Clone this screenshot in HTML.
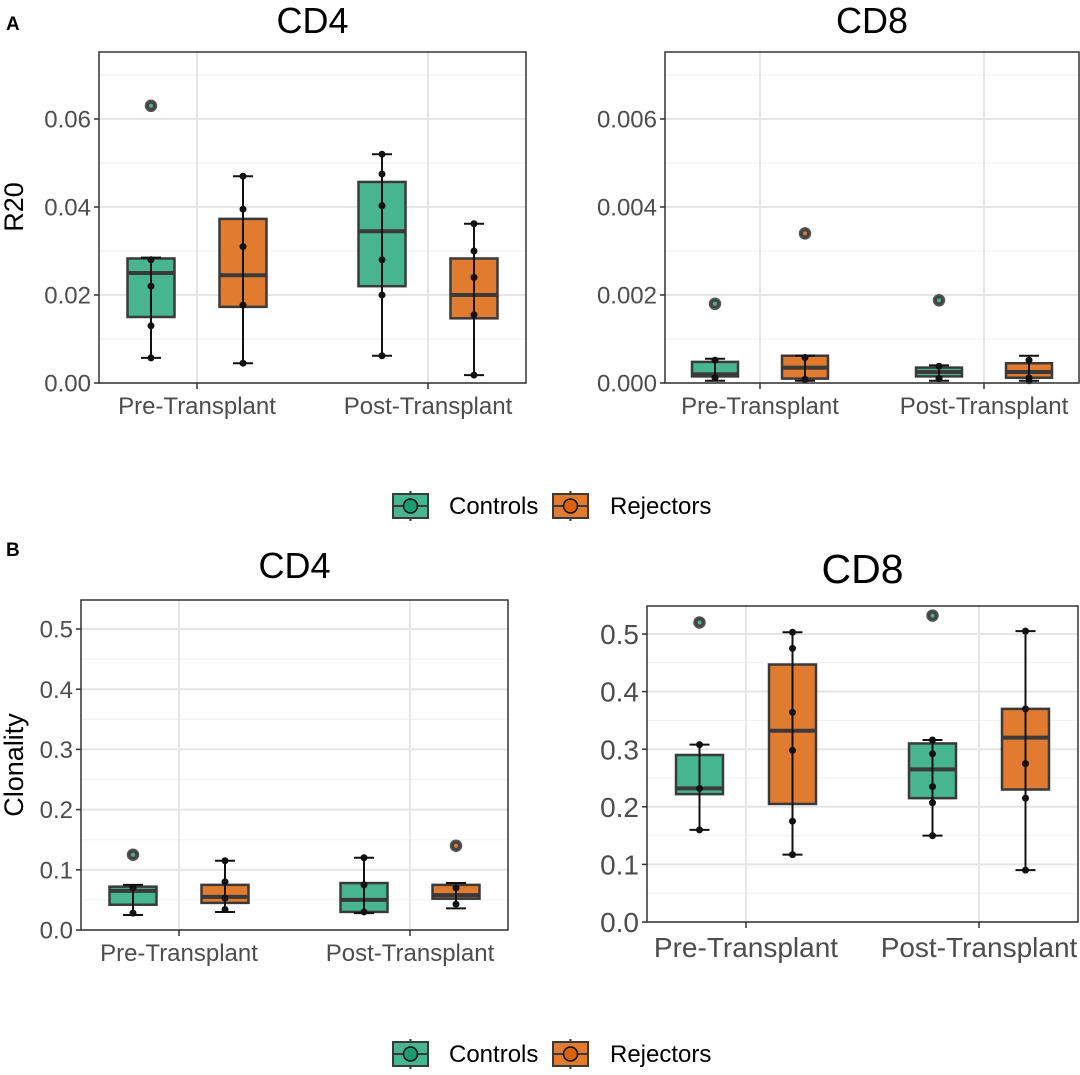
<!DOCTYPE html>
<html><head><meta charset="utf-8">
<style>
body{margin:0;background:#fff;}
svg{display:block;font-family:"Liberation Sans",Arial,sans-serif;}
</style></head>
<body>
<svg id="fig" width="1080" height="1075" viewBox="0 0 1080 1075" xmlns="http://www.w3.org/2000/svg"></svg>
<script>
// group order: Pre-Controls, Pre-Rejectors, Post-Controls, Post-Rejectors
const categories = ["Pre-Transplant", "Post-Transplant"];
const groups = ["Controls", "Rejectors"];

// Panel A CD4 (R20)
const aCD4_lo  = [0.0057, 0.0045, 0.0062, 0.0018];
const aCD4_q1  = [0.0150, 0.0173, 0.0220, 0.0147];
const aCD4_med = [0.0250, 0.0245, 0.0345, 0.0200];
const aCD4_q3  = [0.0283, 0.0373, 0.0457, 0.0283];
const aCD4_hi  = [0.0285, 0.0470, 0.0520, 0.0362];
const aCD4_pts = [[0.028,0.022,0.013,0.0057],[0.047,0.0395,0.031,0.0177,0.0045],[0.052,0.0475,0.0403,0.028,0.020,0.0062],[0.0362,0.030,0.024,0.0155,0.0018]];
const aCD4_out = [[0.063],[],[],[]];
const aCD4_ticks = [0, 0.02, 0.04, 0.06];
const aCD4_tickLabels = ["0.00", "0.02", "0.04", "0.06"];

// Panel A CD8 (R20)
const aCD8_lo  = [0.00005, 0.00005, 0.00005, 0.00005];
const aCD8_q1  = [0.00015, 0.00010, 0.00015, 0.00012];
const aCD8_med = [0.00020, 0.00035, 0.00025, 0.00025];
const aCD8_q3  = [0.00048, 0.00062, 0.00035, 0.00045];
const aCD8_hi  = [0.00055, 0.00062, 0.00040, 0.00062];
const aCD8_pts = [[0.00052,0.00012,0.00012],[0.00058,0.00008,0.00008],[0.00038,0.0001,0.0001],[0.00052,0.00012,0.00005]];
const aCD8_out = [[0.0018],[0.0034],[0.00188],[]];
const aCD8_ticks = [0, 0.002, 0.004, 0.006];
const aCD8_tickLabels = ["0.000", "0.002", "0.004", "0.006"];

// Panel B CD4 (Clonality)
const bCD4_lo  = [0.025, 0.030, 0.028, 0.036];
const bCD4_q1  = [0.042, 0.045, 0.030, 0.052];
const bCD4_med = [0.065, 0.055, 0.050, 0.058];
const bCD4_q3  = [0.072, 0.075, 0.078, 0.075];
const bCD4_hi  = [0.075, 0.115, 0.120, 0.078];
const bCD4_pts = [[0.070,0.028],[0.115,0.080,0.053,0.034],[0.120,0.075,0.030],[0.070,0.043]];
const bCD4_out = [[0.125],[],[],[0.140]];
const bCD4_ticks = [0, 0.1, 0.2, 0.3, 0.4, 0.5];
const bCD4_tickLabels = ["0.0", "0.1", "0.2", "0.3", "0.4", "0.5"];

// Panel B CD8 (Clonality)
const bCD8_lo  = [0.160, 0.117, 0.150, 0.090];
const bCD8_q1  = [0.222, 0.205, 0.215, 0.230];
const bCD8_med = [0.232, 0.332, 0.265, 0.320];
const bCD8_q3  = [0.290, 0.447, 0.310, 0.370];
const bCD8_hi  = [0.308, 0.503, 0.316, 0.505];
const bCD8_pts = [[0.308,0.232,0.160],[0.503,0.475,0.364,0.298,0.175,0.117],[0.316,0.292,0.235,0.207,0.150],[0.505,0.370,0.275,0.215,0.090]];
const bCD8_out = [[0.520],[],[0.532],[]];
const bCD8_ticks = [0, 0.1, 0.2, 0.3, 0.4, 0.5];
const bCD8_tickLabels = ["0.0", "0.1", "0.2", "0.3", "0.4", "0.5"];

const NS = "http://www.w3.org/2000/svg";
const svg = document.getElementById("fig");
const FILL = ["#46b590", "#e07b2f"];
function mk(tag, attrs, parent, text){
  const e = document.createElementNS(NS, tag);
  for (const k in attrs) e.setAttribute(k, attrs[k]);
  if (text !== undefined) e.textContent = text;
  (parent || svg).appendChild(e);
  return e;
}

function panel(cfg){
  const g = mk("g", {});
  
  
  const ys = v => cfg.y1 - (v - 0) / cfg.ymax * (cfg.y1 - cfg.y0);
  const xs = i => cfg.centers[i];
  for (let i = 0; i < cfg.ticks.length; i++){
    const t = cfg.ticks[i];
    const mid = t + (cfg.ticks[1]-cfg.ticks[0])/2;
    if (ys(mid) > cfg.y0) mk("line",{x1:cfg.x0,x2:cfg.x1,y1:ys(mid),y2:ys(mid),stroke:"#f0f0f0","stroke-width":1},g);
  }
  for (let i = 0; i < cfg.ticks.length; i++){
    const y = ys(cfg.ticks[i]);
    mk("line",{x1:cfg.x0,x2:cfg.x1,y1:y,y2:y,stroke:"#e6e6e6","stroke-width":2},g);
    mk("line",{x1:cfg.x0-5,x2:cfg.x0,y1:y,y2:y,stroke:"#333","stroke-width":1.5},g);
    const tl = mk("text",{x:cfg.x0-8,y:y+cfg.tf*0.36,"text-anchor":"end","font-size":cfg.tf,fill:"#4d4d4d"},g,cfg.tickLabels[i]);
    
    
  }
  for (let c = 0; c < categories.length; c++){
    const x = xs(c);
    mk("line",{x1:x,x2:x,y1:cfg.y0,y2:cfg.y1,stroke:"#e6e6e6","stroke-width":2},g);
    mk("line",{x1:x,x2:x,y1:cfg.y1,y2:cfg.y1+6,stroke:"#333","stroke-width":1.5},g);
    const xl = mk("text",{x:x,y:cfg.y1+cfg.tf+7,"text-anchor":"middle","font-size":cfg.tf,fill:"#4d4d4d"},g,categories[c]);
    
    
  }
  const d = cfg.data;
  for (let i = 0; i < 4; i++){
    const cx = xs(Math.floor(i/2)) + (i%2 === 0 ? -cfg.dodge : cfg.dodge);
    const w = cfg.bw, col = FILL[i%2];
    const bg = mk("g",{},g);
    
    
    mk("line",{x1:cx,x2:cx,y1:ys(d.lo[i]),y2:ys(d.q1[i]),stroke:"#333","stroke-width":2},bg);
    mk("line",{x1:cx,x2:cx,y1:ys(d.q3[i]),y2:ys(d.hi[i]),stroke:"#333","stroke-width":2},bg);
    mk("rect",{x:cx-w/2,y:ys(d.q3[i]),width:w,height:Math.max(1,ys(d.q1[i])-ys(d.q3[i])),fill:col,stroke:"#3a3a3a","stroke-width":2.5},bg);
    mk("line",{x1:cx-w/2,x2:cx+w/2,y1:ys(d.med[i]),y2:ys(d.med[i]),stroke:"#3a3a3a","stroke-width":4},bg);
    mk("line",{x1:cx-10,x2:cx+10,y1:ys(d.lo[i]),y2:ys(d.lo[i]),stroke:"#111","stroke-width":2},bg);
    mk("line",{x1:cx-10,x2:cx+10,y1:ys(d.hi[i]),y2:ys(d.hi[i]),stroke:"#111","stroke-width":2},bg);
    mk("line",{x1:cx,x2:cx,y1:ys(d.lo[i]),y2:ys(d.hi[i]),stroke:"#111","stroke-width":2},bg);
    for (const v of d.pts[i]){
      const p = mk("circle",{cx:cx,cy:ys(v),r:3.5,fill:"#111"},bg);
      
      
    }
    for (const v of d.out[i]){
      const o = mk("circle",{cx:cx,cy:ys(v),r:5.5,fill:"#444",stroke:"#555","stroke-width":1.5},bg);
      
      
      mk("circle",{cx:cx,cy:ys(v),r:2,fill:col},bg);
    }
  }
  mk("rect",{x:cfg.x0,y:cfg.y0,width:cfg.x1-cfg.x0,height:cfg.y1-cfg.y0,fill:"none",stroke:"#333","stroke-width":1.5},g);
  const tt = mk("text",{x:(cfg.x0+cfg.x1)/2,y:cfg.titleY,"text-anchor":"middle","font-size":cfg.titleSize,fill:"#000"},g,cfg.title);
  
  
}

panel({name:"panel-a-cd4",title:"CD4",titleY:33,titleSize:36,x0:99,x1:526,y0:52,y1:383,ymax:331/4400,centers:[197,428],dodge:46,bw:47,tf:24,
  ticks:aCD4_ticks,tickLabels:aCD4_tickLabels,data:{lo:aCD4_lo,q1:aCD4_q1,med:aCD4_med,q3:aCD4_q3,hi:aCD4_hi,pts:aCD4_pts,out:aCD4_out}});
panel({name:"panel-a-cd8",title:"CD8",titleY:33,titleSize:36,x0:665,x1:1079,y0:52,y1:383,ymax:331/44000,centers:[760,984],dodge:45,bw:46,tf:24,
  ticks:aCD8_ticks,tickLabels:aCD8_tickLabels,data:{lo:aCD8_lo,q1:aCD8_q1,med:aCD8_med,q3:aCD8_q3,hi:aCD8_hi,pts:aCD8_pts,out:aCD8_out}});
panel({name:"panel-b-cd4",title:"CD4",titleY:578,titleSize:36,x0:81,x1:508,y0:600,y1:930,ymax:330/602,centers:[179,410],dodge:46,bw:47,tf:24,
  ticks:bCD4_ticks,tickLabels:bCD4_tickLabels,data:{lo:bCD4_lo,q1:bCD4_q1,med:bCD4_med,q3:bCD4_q3,hi:bCD4_hi,pts:bCD4_pts,out:bCD4_out}});
panel({name:"panel-b-cd8",title:"CD8",titleY:583,titleSize:41,x0:647,x1:1078,y0:606,y1:922,ymax:316/576,centers:[746,979],dodge:46.5,bw:47,tf:28,
  ticks:bCD8_ticks,tickLabels:bCD8_tickLabels,data:{lo:bCD8_lo,q1:bCD8_q1,med:bCD8_med,q3:bCD8_q3,hi:bCD8_hi,pts:bCD8_pts,out:bCD8_out}});

let t;
t = mk("text",{x:6,y:30,"font-size":19,"font-weight":"bold"},svg,"A");
 
t = mk("text",{x:6,y:556,"font-size":19,"font-weight":"bold"},svg,"B");
 
t = mk("text",{x:0,y:0,"font-size":27,"text-anchor":"middle",transform:"translate(23,207) rotate(-90)"},svg,"R20");
 
t = mk("text",{x:0,y:0,"font-size":27,"text-anchor":"middle",transform:"translate(23,765) rotate(-90)"},svg,"Clonality");
 

function legend(y, nm){
  const g = mk("g",{});
  
  
  const keys = [393, 553], tx = [449, 610];
  for (let i = 0; i < 2; i++){
    const k = mk("g",{},g);
    
    
    const x = keys[i], cx = x + 17.5;
    mk("line",{x1:cx,x2:cx,y1:y-15,y2:y+15,stroke:"#333","stroke-width":2},k);
    mk("rect",{x:x,y:y-12,width:35,height:24,fill:FILL[i],stroke:"#3a3a3a","stroke-width":2},k);
    mk("line",{x1:x,x2:x+35,y1:y,y2:y,stroke:"#3a3a3a","stroke-width":2},k);
    mk("circle",{cx:cx,cy:y,r:7,fill:i?"#d9620e":"#1c9c6e",stroke:"#111","stroke-width":1.5},k);
    mk("text",{x:tx[i],y:y+8,"font-size":24,fill:"#000"},k,groups[i]);
  }
}
legend(506, "legend-a");
legend(1054, "legend-b");
</script>
</body></html>
